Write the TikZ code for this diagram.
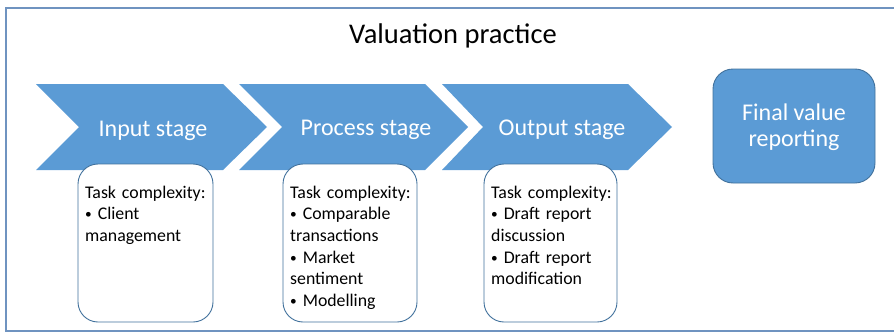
\documentclass[tikz,border=0pt]{standalone}
\usepackage{fontspec}
\setmainfont{Carlito}
\definecolor{chev}{HTML}{5B9BD5}
\definecolor{edge}{HTML}{41719C}
\definecolor{frame}{HTML}{6F93C0}
\newcommand\mybul{\raisebox{0.12ex}{\scalebox{0.75}{•}}}
\begin{document}
\begin{tikzpicture}[x=1pt,y=-1pt,
  chevron/.style={fill=chev,draw=none},
  stagelabel/.style={text=white,font=\fontsize{24}{28}\selectfont,inner sep=0,anchor=base},
  taskbox/.style={draw=edge,line width=0.9pt,fill=white,rounded corners=20pt},
  tasktext/.style={anchor=base west,inner sep=0,align=left,text width=132pt,font=\fontsize{17.8}{21.7}\selectfont}]
\useasboundingbox (0,0) rectangle (894,332);
\draw[frame,line width=1.3pt] (920,8) -- (6,8) -- (6,331) -- (920,331);
\node[font=\fontsize{28.5}{32}\selectfont,inner sep=0,anchor=base] (title) at (453,43.3) {Valuation practice};
% chevrons
\fill[chevron] (36,84) -- (223,84) -- (267,127) -- (223,170) -- (36,170) -- (79,127) -- cycle;
\fill[chevron] (239,84) -- (425,84) -- (468,127) -- (425,170) -- (239,170) -- (282,127) -- cycle;
\fill[chevron] (442,84) -- (628,84) -- (672,127) -- (628,170) -- (442,170) -- (483,127) -- cycle;
\node[stagelabel] (s1) at (153,136) {Input stage};
\node[stagelabel] (s2) at (366,135) {Process stage};
\node[stagelabel] (s3) at (562,135) {Output stage};
% final box
\node[draw=edge,line width=0.9pt,fill=chev,rounded corners=20pt,minimum width=162pt,minimum height=114pt,inner sep=0] (final) at (794,126) {};
\node[text=white,align=center,font=\fontsize{24}{26}\selectfont,inner sep=0] (finaltext) at (794,127) {Final value\\reporting};
% task boxes
\draw[taskbox] (78,164) rectangle (213,322);
\draw[taskbox] (283,164) rectangle (417,322);
\draw[taskbox] (484,164) rectangle (617,322);
\node[tasktext] (t1) at (85,198) {Task complexity:\\\mybul{} Client\\management};
\node[tasktext] (t2) at (290,198) {Task complexity:\\\mybul{} Comparable\\transactions\\\mybul{} Market\\sentiment\\\mybul{} Modelling};
\node[tasktext] (t3) at (491,198) {Task complexity:\\\mybul{} Draft report\\discussion\\\mybul{} Draft report\\modification};
\end{tikzpicture}
\end{document}
